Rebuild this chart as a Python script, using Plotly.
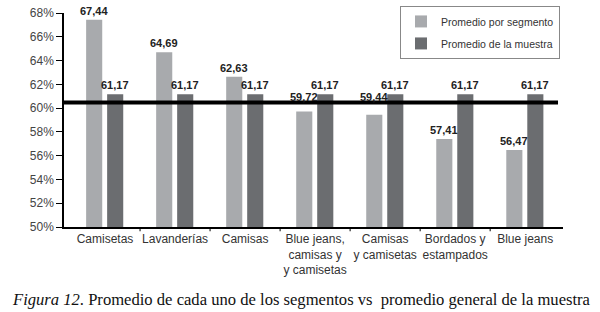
import plotly.graph_objects as go

categories = ["Camisetas", "Lavanderías", "Camisas", "Blue jeans,<br>camisas y<br>y camisetas",
              "Camisas<br>y camisetas", "Bordados y<br>estampados", "Blue jeans"]
segment_avg = [67.44, 64.69, 62.63, 59.72, 59.44, 57.41, 56.47]
sample_avg = [61.17, 61.17, 61.17, 61.17, 61.17, 61.17, 61.17]
ref_line = 60.47
y_ticks = [50, 52, 54, 56, 58, 60, 62, 64, 66, 68]
y_tick_labels = [f"{v}%" for v in y_ticks]

def fmt(v):
    return "<b>" + f"{v:.2f}".replace(".", ",") + "</b>"

BAR_W = 0.23
OFF_SEG = -0.27
OFF_SAM = 0.03
Y_MIN, Y_MAX = 50, 68
PLOT_H = 312 - 13 - 85
PX_PER_UNIT = PLOT_H / (Y_MAX - Y_MIN)
LABEL_GAP = 9

x = list(range(len(categories)))
label_font = dict(family="Liberation Sans, Arial", size=11, color="#222")

fig = go.Figure()
fig.add_trace(go.Bar(
    x=x, y=segment_avg, name="Promedio por segmento", base=0,
    width=BAR_W, offset=OFF_SEG, legendgroup="a",
    marker=dict(color="#a8aaad", line=dict(width=0)),
))
fig.add_trace(go.Bar(
    x=x, y=sample_avg, name="Promedio de la muestra", base=0,
    width=BAR_W, offset=OFF_SAM, legendgroup="b",
    marker=dict(color="#6b6d70", line=dict(width=0)),
))

# value labels (raised above the reference line when they would collide with it)
for vals, off in [(segment_avg, OFF_SEG), (sample_avg, OFF_SAM)]:
    for xi, v in zip(x, vals):
        shift = LABEL_GAP
        if abs((v - ref_line) * PX_PER_UNIT + LABEL_GAP) < 8:
            shift = (ref_line - v) * PX_PER_UNIT + 6
        fig.add_annotation(x=xi + off + BAR_W / 2, y=v, xref="x", yref="y",
                           text=fmt(v), showarrow=False, yanchor="middle",
                           yshift=shift, font=label_font)

fig.add_shape(type="line", xref="paper", yref="y", x0=0, x1=0.99, y0=ref_line, y1=ref_line,
              line=dict(color="black", width=4))

fig.add_annotation(xref="paper", yref="paper", x=0.5, y=-0.34, xanchor="center", yanchor="middle",
                   xshift=-(64 - 37) / 2 + 1,
                   showarrow=False,
                   text="<i>Figura 12</i>. Promedio de cada uno de los segmentos vs  promedio general de la muestra",
                   font=dict(family="Liberation Serif, Times New Roman", size=16.6, color="#111"))

fig.update_layout(
    width=600, height=312,
    margin=dict(l=64, r=37, t=13, b=85, autoexpand=False),
    plot_bgcolor="white", paper_bgcolor="white",
    font=dict(family="Liberation Sans, Arial", size=12, color="#333"),
    legend=dict(
        x=0.994, y=1.033, xanchor="right", yanchor="top",
        bordercolor="#888", borderwidth=1, bgcolor="white",
        font=dict(size=10.5, color="#333"),
        itemwidth=30, tracegroupgap=3,
    ),
    xaxis=dict(
        range=[-0.586, 6.54], tickmode="array", tickvals=x, ticktext=categories,
        showline=True, linecolor="black", linewidth=1.5, showgrid=False,
        ticks="", zeroline=False, tickfont=dict(size=12, color="#333"),
    ),
    yaxis=dict(
        range=[Y_MIN, Y_MAX], tickvals=y_ticks, ticktext=y_tick_labels,
        showline=True, linecolor="black", linewidth=1.5, showgrid=False,
        ticks="outside", ticklen=6, tickcolor="black", zeroline=False,
        tickfont=dict(size=12, color="#444"),
    ),
)

# category boundary ticks on x axis
for b in [0.5, 1.5, 2.5, 3.5, 4.5, 5.5]:
    fig.add_shape(type="line", xref="x", yref="paper", x0=b, x1=b, y0=0, y1=-0.02,
                  line=dict(color="black", width=1))

fig.write_html("out.html", config={"displayModeBar": False},
               post_script="document.body.style.margin='0';document.body.style.padding='0';")
